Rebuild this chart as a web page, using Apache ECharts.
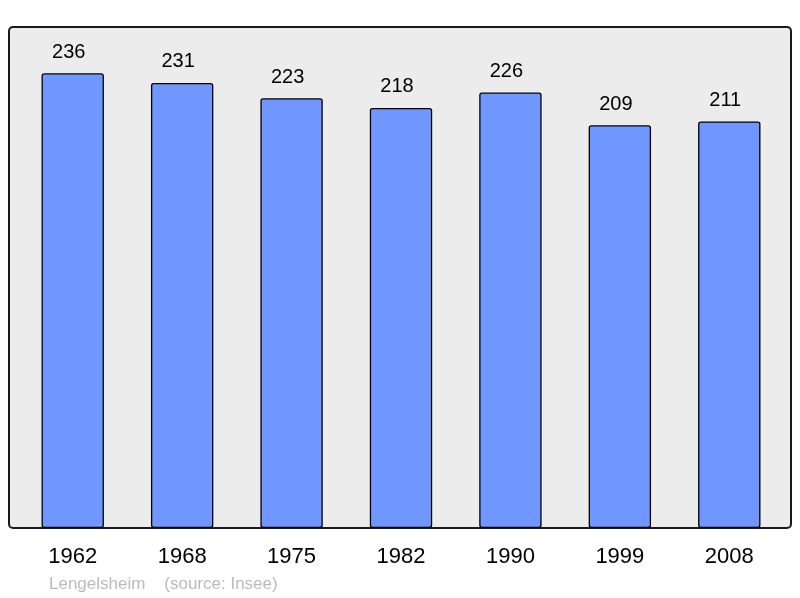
<!DOCTYPE html>
<html>
<head>
    <meta charset="utf-8">
    <script src="https://cdn.jsdelivr.net/npm/echarts@6/dist/echarts.min.js"></script>
    <style>
        body { margin: 0; padding: 0; background: #fff; }
        #chart { width: 800px; height: 598px; }
    </style>
</head>
<body>
    <div id="chart"></div>
    <script>
        // 数据
        const years = ['1962', '1968', '1975', '1982', '1990', '1999', '2008'];
        const population = [236, 231, 223, 218, 226, 209, 211];

        const chart = echarts.init(document.getElementById('chart'));

        const option = {
            animation: false,
            textStyle: { fontFamily: 'Liberation Sans, Arial, sans-serif' },
            graphic: [
                {
                    type: 'rect',
                    z: -10,
                    shape: { x: 9, y: 27, width: 782, height: 501, r: 4 },
                    style: { fill: '#ececec', stroke: '#1a1a1a', lineWidth: 2 }
                },
                {
                    type: 'text',
                    left: 49,
                    top: 576,
                    style: {
                        text: 'Lengelsheim    (source: Insee)',
                        fill: '#bbbbbb',
                        fontSize: 17,
                        fontFamily: 'Liberation Sans, Arial, sans-serif'
                    }
                }
            ],
            grid: { left: 18, right: 16, top: 27, bottom: 70 },
            xAxis: {
                type: 'category',
                data: years,
                axisLine: { show: false },
                axisTick: { show: false },
                axisLabel: { color: '#000', fontSize: 22, margin: 18 }
            },
            yAxis: {
                type: 'value',
                min: 0,
                max: 260,
                show: false,
                splitLine: { show: false }
            },
            series: [{
                type: 'bar',
                data: population,
                barWidth: '57%',
                itemStyle: {
                    color: '#7096ff',
                    borderColor: '#000',
                    borderWidth: 1.3,
                    borderRadius: 2
                },
                label: {
                    show: true,
                    position: 'top',
                    distance: 11,
                    offset: [-4, 0],
                    color: '#000',
                    fontSize: 20
                }
            }]
        };

        chart.setOption(option);
    </script>
</body>
</html>
